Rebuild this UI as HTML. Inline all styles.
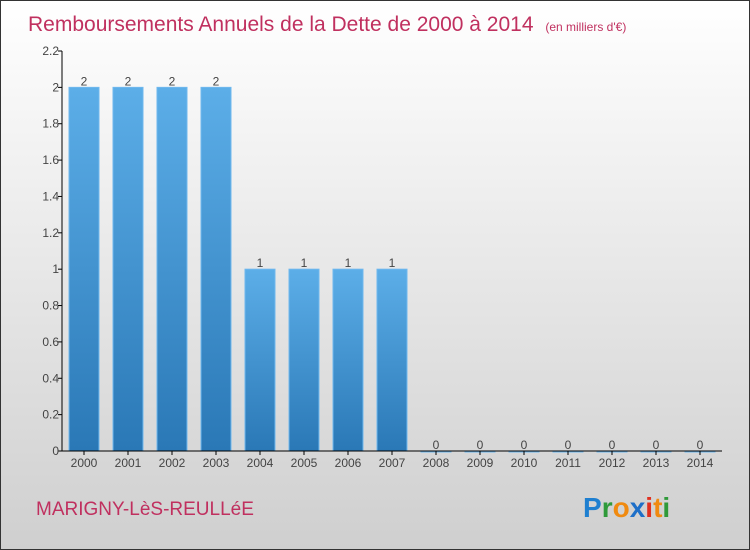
<!DOCTYPE html>
<html><head><meta charset="utf-8"><style>
body{margin:0}
#c{position:relative;width:750px;height:550px;box-sizing:border-box;border:1px solid #333;background:linear-gradient(#ffffff,#cfcfcf);font-family:"Liberation Sans",sans-serif;overflow:hidden}
</style></head><body>
<div id="c">
<svg width="750" height="550" style="position:absolute;left:0;top:0">
<defs><linearGradient id="bg" x1="0" y1="0" x2="0" y2="1"><stop offset="0" stop-color="#5caee8"/><stop offset="1" stop-color="#2a78b6"/></linearGradient></defs>
<text x="27" y="30" font-size="21" fill="#c0305f">Remboursements Annuels de la Dette de 2000 à 2014 <tspan font-size="12" dx="6">(en milliers d'€)</tspan></text>
<g id="plot"></g>
<text x="35" y="514" font-size="19" fill="#c0305f">MARIGNY-LèS-REULLéE</text>
<g font-size="28" font-weight="bold">
<text x="582" y="516"><tspan fill="#1e7fd0">P</tspan><tspan fill="#2f9a3a">r</tspan><tspan fill="#f08a10">o</tspan><tspan fill="#1e6fc8">x</tspan><tspan fill="#e03020">i</tspan><tspan fill="#f08a10">t</tspan><tspan fill="#2f9a3a">i</tspan></text></g>
</svg>
</div>
<script>
const categories=["2000","2001","2002","2003","2004","2005","2006","2007","2008","2009","2010","2011","2012","2013","2014"];
const values=[2,2,2,2,1,1,1,1,0,0,0,0,0,0,0];
const valueLabels=["2","2","2","2","1","1","1","1","0","0","0","0","0","0","0"];
const ticks=[0,0.2,0.4,0.6,0.8,1,1.2,1.4,1.6,1.8,2,2.2];
const tickLabels=["0","0.2","0.4","0.6","0.8","1","1.2","1.4","1.6","1.8","2","2.2"];
const NS="http://www.w3.org/2000/svg";
const g=document.getElementById('plot');
const x0=61,band=44,y0=450,ymax=2.2,h=400;
const y=v=>y0-v/ymax*h;
const xc=i=>x0+band*i+22;
function el(t,a,txt){const e=document.createElementNS(NS,t);for(const k in a)e.setAttribute(k,a[k]);if(txt!==undefined)e.textContent=txt;g.appendChild(e);return e;}
ticks.forEach((t,i)=>{
 const l=el('line',{x1:x0-4,x2:x0,y1:y(t),y2:y(t),stroke:'#000'});
 
 
 const tx=el('text',{x:x0-3,y:y(t)+4,'font-size':12,fill:'#444','text-anchor':'end'},tickLabels[i]);
 
 
});
values.forEach((v,i)=>{
 const b=el('rect',{x:xc(i)-15,y:y(v),width:30,height:Math.max(y0-y(v),1),fill:'url(#bg)',stroke:'#6fb8ee','stroke-width':1});
 
 
 const vl=el('text',{x:xc(i),y:y(v)-2,'font-size':12,fill:'#444','text-anchor':'middle'},valueLabels[i]);
 
 
 const tk=el('line',{x1:xc(i),x2:xc(i),y1:y0,y2:y0+4,stroke:'#000'});
 
 
 const xl=el('text',{x:xc(i),y:y0+16,'font-size':12,fill:'#444','text-anchor':'middle'},categories[i]);
 
 
});
const ya=el('line',{x1:x0,x2:x0,y1:y(2.2),y2:y0,stroke:'#000'});


const xa=el('line',{x1:x0,x2:721,y1:y0,y2:y0,stroke:'#000'});


</script>
</body></html>
